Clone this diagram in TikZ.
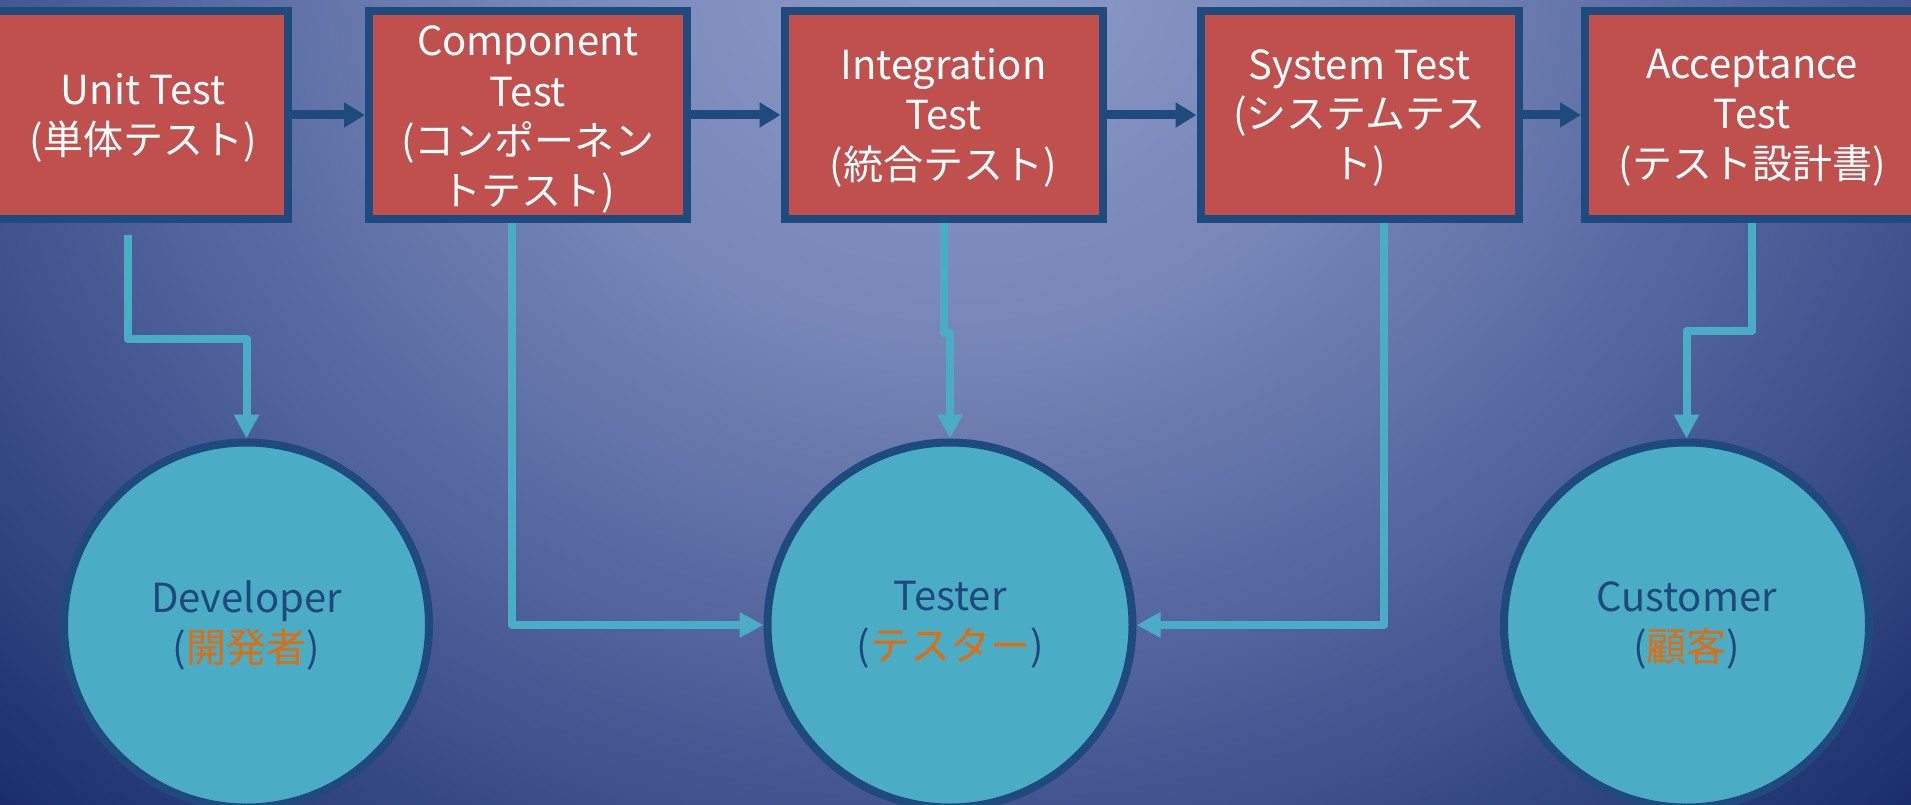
\documentclass[tikz,border=0pt]{standalone}
\usepackage{fontspec}
\setmainfont{Noto Sans CJK JP}
\usetikzlibrary{arrows.meta}
\definecolor{boxred}{HTML}{C0504D}
\definecolor{navy}{HTML}{1F4A7E}
\definecolor{cyanc}{HTML}{4BACC6}
\definecolor{txtblue}{HTML}{1F497D}
\definecolor{jorange}{HTML}{E46C0A}
\definecolor{bga}{RGB}{142,155,202}
\definecolor{bgb}{RGB}{120,135,184}
\definecolor{bgc}{RGB}{80,98,156}
\definecolor{bgd}{RGB}{44,64,124}
\definecolor{bge}{RGB}{22,40,105}
\pgfdeclareradialshading{bgshade}{\pgfpoint{0bp}{0bp}}{color(0bp)=(bga); color(7.5bp)=(bgb); color(15bp)=(bgc); color(21.25bp)=(bgd); color(25bp)=(bge); color(50bp)=(bge)}
\begin{document}
\begin{tikzpicture}[x=1pt,y=-1pt,
  testbox/.style={draw=navy, line width=8pt, fill=boxred, minimum height=208pt, minimum width=318pt, inner sep=0pt},
  boxtext/.style={text=white, align=center, inner sep=0pt, font=\fontsize{40}{50}\selectfont},
  rolecircle/.style={circle, draw=navy, line width=8pt, fill=cyanc, minimum size=365pt, inner sep=0pt, text=txtblue, align=center, font=\fontsize{40}{50}\selectfont},
  flowarrow/.style={draw=navy, line width=9pt, -{Triangle[width=24pt,length=21pt]}},
  linkarrow/.style={draw=cyanc, line width=8pt, line join=round, -{Triangle[width=24pt,length=24pt]}}
]
\useasboundingbox (0,0) rectangle (1911,805);
\begin{scope}
  \clip (0,0) rectangle (1911,805);
  \shade[shading=bgshade] (-445,-1230) rectangle (2355,1170);
\end{scope}

% test boxes
\node[testbox, minimum width=320pt] (unit) at (128,115) {};
\node[testbox] (comp) at (528,115) {};
\node[testbox] (integ) at (943.5,115) {};
\node[testbox] (sys) at (1359.5,115) {};
\node[testbox, minimum width=334pt] (acc) at (1752,115) {};

\node[boxtext] (unittxt) at (143,118) {Unit Test\\(単体テスト)};
\node[boxtext] (comptxt) at ([yshift=-5pt]comp.center) {Component\\Test\\(コンポーネン\\トテスト)};
\node[boxtext] (integtxt) at ([yshift=-3pt]integ.center) {Integration\\Test\\(統合テスト)};
\node[boxtext] (systxt) at ([yshift=-3pt]sys.center) {System Test\\(システムテス\\ト)};
\node[boxtext] (acctxt) at ([yshift=-3pt]acc.center) {Acceptance\\Test\\(テスト設計書)};

% roles
\node[rolecircle] (dev) at (246.5,625) {Developer\\(\textcolor{jorange}{開発者})};
\node[rolecircle] (tester) at (950,625) {Tester\\(\textcolor{jorange}{テスター})};
\node[rolecircle] (cust) at (1686.5,625) {Customer\\(\textcolor{jorange}{顧客})};

% flow
\draw[flowarrow] (unit) -- (comp);
\draw[flowarrow] (comp) -- (integ);
\draw[flowarrow] (integ) -- (sys);
\draw[flowarrow] (sys) -- (acc);

% links
\coordinate (j1) at (128,339);
\draw[linkarrow] ([yshift=-12pt]unit.south) -- (j1) -| (dev.north);
\draw[linkarrow] ([xshift=-16pt]comp.south) |- (tester.west);
\coordinate (j3) at (943.5,333);
\draw[linkarrow] (integ.south) -- (j3) -| (tester.north);
\draw[linkarrow] ([xshift=24.5pt]sys.south) |- (tester.east);
\coordinate (j5) at (1752,331);
\draw[linkarrow] (acc.south) -- (j5) -| (cust.north);
\end{tikzpicture}
\end{document}
